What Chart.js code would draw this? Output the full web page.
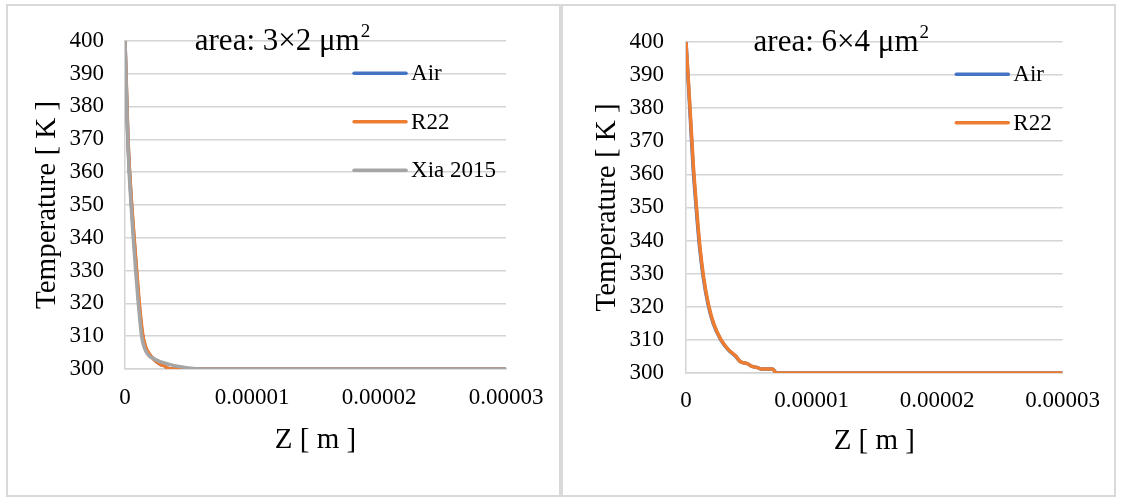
<!DOCTYPE html>
<html><head><meta charset="utf-8">
<script src="https://cdn.jsdelivr.net/npm/chart.js@4.4.0/dist/chart.umd.min.js"></script>
<style>
html,body{margin:0;padding:0;background:#fff;width:1121px;height:500px;overflow:hidden}
.panel{position:absolute;top:4px;height:489px;border:2px solid #d9d9d9;background:#fff}
#p1{left:6px;width:551px}
#p2{left:561px;width:551px}
canvas{display:block}
</style></head><body>
<div class="panel" id="p1"><canvas id="c1" width="551" height="489"></canvas></div>
<div class="panel" id="p2"><canvas id="c2" width="551" height="489"></canvas></div>
<script>
const FONT = "'Liberation Serif','Times New Roman',serif";
const seriesNames = ['Air', 'R22', 'Xia 2015'];
const seriesColors = ['#4472C4', '#ED7D31', '#A5A5A5'];
const xTickValues = [0, 0.00001, 0.00002, 0.00003];
const xTickLabels = ['0', '0.00001', '0.00002', '0.00003'];
const yTickValues = [300, 310, 320, 330, 340, 350, 360, 370, 380, 390, 400];
const panelTitles = ['area: 3\u00D72 \u03BCm', 'area: 6\u00D74 \u03BCm'];
const panelTitleSup = ['2', '2'];
const xAxisTitle = 'Z [ m ]';
const yAxisTitle = 'Temperature [ K ]';

// Left panel (area 3x2)
const leftAirZ = [0, 1.1e-7, 2.2e-7, 3.4e-7, 5.1e-7, 7.0e-7, 9.0e-7, 1.1e-6, 1.35e-6, 1.58e-6, 1.82e-6, 2.1e-6, 2.5e-6, 2.9e-6, 3.1e-6, 3.3e-6, 3.7e-6, 3.0e-5];
const leftAirT = [400, 385, 371, 361, 350, 340, 330, 320, 311, 307, 305, 303.6, 302.2, 301.2, 301, 300.4, 300, 300];
const leftR22Z = [0, 1.2e-7, 2.3e-7, 3.5e-7, 5.3e-7, 7.2e-7, 9.2e-7, 1.13e-6, 1.38e-6, 1.6e-6, 1.85e-6, 2.1e-6, 2.5e-6, 2.9e-6, 3.1e-6, 3.3e-6, 3.7e-6, 3.0e-5];
const leftR22T = [400, 385, 371, 361, 350, 340, 330, 320, 311, 307, 305, 303.6, 302.2, 301.2, 301, 300.4, 300, 300];
const leftXiaZ = [0, 1.0e-7, 2.0e-7, 3.0e-7, 4.7e-7, 6.5e-7, 8.4e-7, 1.05e-6, 1.31e-6, 1.7e-6, 2.36e-6, 3.4e-6, 4.7e-6, 6.3e-6, 3.0e-5];
const leftXiaT = [400, 386, 372, 362, 350.5, 340, 330, 320, 310, 305, 303, 301.5, 300.5, 300, 300];

// Right panel (area 6x4)
const rightAirZ = [0, 3.0e-7, 5.5e-7, 8.2e-7, 1.07e-6, 1.37e-6, 1.77e-6, 2.17e-6, 2.77e-6, 3.37e-6, 3.97e-6, 4.3e-6, 4.9e-6, 5.2e-6, 5.7e-6, 6.0e-6, 6.9e-6, 7.2e-6, 3.0e-5];
const rightAirT = [400, 380, 363, 349.5, 338.5, 329, 320.5, 315, 310, 307, 305, 303.5, 302.8, 302.1, 301.6, 301.2, 301.2, 300, 300];
const rightR22Z = [0, 3.2e-7, 5.8e-7, 8.5e-7, 1.1e-6, 1.4e-6, 1.8e-6, 2.2e-6, 2.8e-6, 3.4e-6, 4.0e-6, 4.3e-6, 4.9e-6, 5.2e-6, 5.7e-6, 6.0e-6, 6.9e-6, 7.2e-6, 3.0e-5];
const rightR22T = [400, 380, 363, 349.5, 338.5, 329, 320.5, 315, 310, 307, 305, 303.5, 302.8, 302.1, 301.6, 301.2, 301.2, 300, 300];

function pts(zs, ts) { return zs.map((z, i) => ({x: z, y: ts[i]})); }
function ds(i, zs, ts) {
  return {label: seriesNames[i], data: pts(zs, ts), borderColor: seriesColors[i], backgroundColor: seriesColors[i],
    borderWidth: 3.5, pointRadius: 0, cubicInterpolationMode: 'monotone', order: 3 - i};
}

const decoPlugin = {
  id: 'deco',
  afterDraw(chart, args, o) {
    const {ctx, chartArea: a} = chart;
    ctx.save();
    ctx.fillStyle = '#000';
    ctx.textAlign = 'left';
    ctx.textBaseline = 'alphabetic';
    ctx.font = o.titleSize + 'px ' + FONT;
    const mainW = ctx.measureText(o.title).width;
    ctx.font = o.supSize + 'px ' + FONT;
    const supW = ctx.measureText(o.sup).width;
    const total = mainW + supW + 1;
    const x0 = (a.left + a.right) / 2 + o.titleDx - total / 2;
    const base = a.top + o.titleBase;
    ctx.font = o.titleSize + 'px ' + FONT;
    ctx.fillText(o.title, x0, base);
    ctx.font = o.supSize + 'px ' + FONT;
    ctx.fillText(o.sup, x0 + mainW + 1, base - o.supRaise);
    // legend
    ctx.font = o.legSize + 'px ' + FONT;
    const dsets = chart.data.datasets;
    const maxW = Math.max(...dsets.map(d => ctx.measureText(d.label).width));
    const textX = a.right - o.legRight - maxW;
    dsets.forEach((d, i) => {
      const y = a.top + o.legTop + i * o.legGap;
      ctx.strokeStyle = d.borderColor;
      ctx.lineWidth = 3.5;
      ctx.lineCap = 'round';
      ctx.beginPath(); ctx.moveTo(textX - 57, y); ctx.lineTo(textX - 5, y); ctx.stroke();
      ctx.fillStyle = '#000';
      ctx.textBaseline = 'middle';
      ctx.fillText(d.label, textX, y + 1);
    });
    ctx.restore();
  }
};

function makeChart(id, datasets, p) {
  const tickFont = {family: FONT, size: 23};
  const titleFont = {family: FONT, size: 29};
  return new Chart(document.getElementById(id), {
    type: 'line',
    data: {datasets},
    plugins: [decoPlugin],
    options: {
      responsive: false, animation: false, events: [],
      layout: {padding: {left: 0, top: p.top, right: p.right, bottom: 0}},
      plugins: {
        legend: {display: false}, tooltip: {enabled: false},
        deco: {title: p.title, sup: p.sup, titleSize: 31, supSize: 19, supRaise: 13, titleDx: -33, titleBase: 9,
               legSize: 23, legRight: p.legRight, legTop: 32.5, legGap: 48.5}
      },
      scales: {
        x: {
          type: 'linear', min: 0, max: 0.00003,
          afterBuildTicks: s => { s.ticks = xTickValues.map(v => ({value: v})); },
          afterFit: s => { s.height = p.xh; },
          ticks: {font: tickFont, color: '#000', padding: p.xpad, maxRotation: 0,
                  callback: (v) => { const i = xTickValues.findIndex(t => Math.abs(t - v) < 1e-12); return i >= 0 ? xTickLabels[i] : ''; }},
          grid: {display: false, drawTicks: false},
          border: {display: true, color: '#d4d4d4', width: 1.5},
          title: {display: true, text: xAxisTitle, font: titleFont, color: '#000', padding: {top: 0, bottom: p.xtpad}}
        },
        y: {
          type: 'linear', min: 300, max: 400,
          afterBuildTicks: s => { s.ticks = yTickValues.map(v => ({value: v})); },
          afterFit: s => { s.width = p.yw; },
          ticks: {font: tickFont, color: '#000', padding: p.ypad, callback: v => String(v)},
          grid: {color: '#d4d4d4', lineWidth: 1.5, drawTicks: false},
          border: {display: true, color: '#d4d4d4', width: 1.5},
          title: {display: true, text: yAxisTitle, font: titleFont, color: '#000', padding: {top: p.ytpad, bottom: 0}}
        }
      }
    }
  });
}

makeChart('c1', [ds(0, leftAirZ, leftAirT), ds(1, leftR22Z, leftR22T), ds(2, leftXiaZ, leftXiaT)],
  {top: 27, right: 53, xh: 126, yw: 117, xpad: 15, ypad: 21, xtpad: 37.6, ytpad: 21.6, legRight: 10,
   title: panelTitles[0], sup: panelTitleSup[0]});
makeChart('c2', [ds(0, rightAirZ, rightAirT), ds(1, rightR22Z, rightR22T)],
  {top: 26, right: 49, xh: 122, yw: 123, xpad: 14, ypad: 22, xtpad: 36.6, ytpad: 26.6, legRight: 11,
   title: panelTitles[1], sup: panelTitleSup[1]});
</script>
</body></html>
